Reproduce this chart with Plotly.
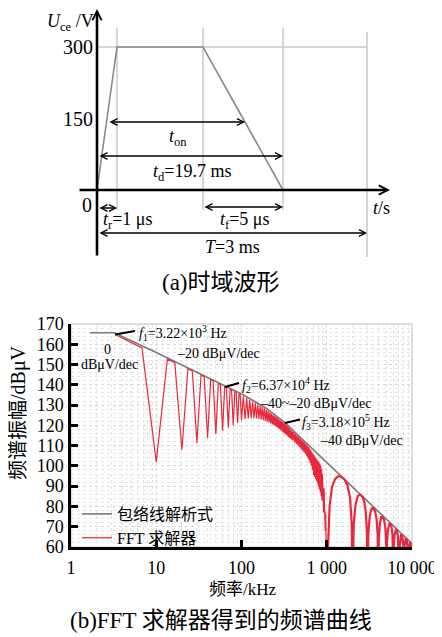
import plotly.graph_objects as go

W, H = 442, 637          # window size
OFF = 8                  # page body margin: the figure starts 8 px in
FW, FH = W - OFF, H - OFF

# ---------------- (a) time-domain waveform (schematic, not to scale) ----------------
wave_t = [0, 1, 5.3, 9.3]          # schematic time positions: start, end of t_r, start of fall, end of fall
wave_v = [0, 300, 300, 0]          # U_ce in V
guide_t = [1, 5.3, 9.3, 13.5]      # vertical guides (t_r end, fall start, fall end, T)
v_ticks = [150, 300]

# ---------------- (b) spectrum ----------------
x_tickvals = [1, 10, 100, 1000, 10000]
x_ticktext = ["1", "10", "100", "1 000", "10 000"]
y_tickvals = [60, 70, 80, 90, 100, 110, 120, 130, 140, 150, 160, 170]

# envelope (analytic) kHz / dBuV
env_f = [1.67, 3.22, 10, 20, 40, 63.7, 100, 150, 200, 318, 1000, 3000, 10000]
env_v = [165.7, 165.7, 155.9, 149.8, 143.8, 139.8, 135.5, 131.3, 128.1, 121.6, 101.7, 82.6, 61.7]

# FFT solver
fft_f_1 = [3.3, 6.8, 10, 13.5, 16.5, 20, 23.5, 26.5, 30, 33.5, 36.5, 40, 43.5, 46.5, 50,
           53.5, 56.5, 60, 63.5, 66.5, 70, 73.5, 76.5, 80, 83.5, 86.5, 90, 93.5, 96.5]
fft_v_1 = [164.8, 158.2, 102.0, 152.6, 150.9, 108.0, 147.8, 146.8, 111.3, 144.7, 144.0, 113.8,
           142.5, 141.9, 115.8, 140.7, 140.2, 117.4, 139.2, 138.8, 118.8, 137.8, 137.5, 120.0,
           136.6, 136.3, 121.2, 135.5, 135.2]

fft_f_2 = [100, 105, 110, 115, 120, 125, 130, 135, 140, 145, 150, 155, 160, 165, 170, 175,
           180, 185, 190, 195, 200, 205, 210, 215, 220, 225, 230, 235, 240, 245, 250, 255,
           260, 265, 270, 275, 280, 285, 290, 295, 300, 305, 310, 315, 320, 325, 330, 335,
           340, 345, 350, 355, 360, 365, 370, 375, 380, 385, 390, 395]
fft_v_2 = [122.5, 134.4, 123.0, 133.5, 123.4, 132.6, 123.5, 131.8, 123.5, 131.1, 123.4, 130.3,
           123.2, 129.6, 122.9, 129.0, 122.6, 128.4, 122.2, 127.8, 121.8, 127.2, 121.4, 126.5,
           121.0, 125.8, 120.5, 125.2, 120.1, 124.7, 119.6, 124.1, 119.1, 123.6, 118.6, 123.0,
           118.1, 122.5, 117.6, 122.0, 117.0, 121.6, 116.5, 121.1, 116.0, 120.6, 115.6, 120.1,
           115.1, 119.5, 114.7, 119.0, 114.2, 118.5, 113.8, 118.0, 113.3, 117.5, 112.9, 117.0]

fft_f_3 = [400, 410, 420, 430, 440, 450, 460, 470, 480, 490, 500, 510, 520, 530, 540, 550,
           560, 570, 580, 590, 600, 610, 620, 630, 640, 650, 660, 670, 680, 690, 700, 710,
           720, 730, 740, 750, 760, 770, 780, 790, 800, 810, 820, 830, 840, 850, 860, 870,
           880, 890, 900, 910, 920, 930, 940, 950, 960, 970, 980, 990]
fft_v_3 = [112.5, 116.7, 111.6, 115.9, 110.8, 115.1, 110.0, 114.3, 109.2, 113.6, 108.4, 112.9,
           107.6, 112.2, 106.8, 111.5, 106.0, 110.8, 105.0, 110.1, 104.0, 109.4, 102.8, 108.6,
           101.5, 107.8, 100.0, 107.0, 98.0, 106.0, 95.5, 105.2, 94.5, 104.5, 93.5, 103.8,
           92.5, 103.1, 91.5, 102.4, 90.0, 101.8, 88.5, 101.2, 87.0, 100.2, 85.0, 98.5,
           83.0, 96.0, 80.0, 93.0, 77.0, 89.0, 73.0, 84.0, 68.0, 77.0, 60.0, 67.0]

fft_f_4 = [1000, 1080, 1150, 1250, 1350, 1450, 1600, 1750, 1880, 1960,
           2000, 2080, 2180, 2320, 2450, 2600, 2750, 2880, 2960,
           3000, 3080, 3200, 3350, 3500, 3680, 3850, 3950,
           4000, 4080, 4200, 4350, 4500, 4700, 4870, 4960,
           5000, 5080, 5200, 5400, 5550, 5750, 5900, 5970,
           6000, 6100, 6250, 6450, 6650, 6850, 6960,
           7000, 7100, 7250, 7450, 7650, 7850, 7960,
           8000, 8100, 8250, 8450, 8650, 8850, 8960,
           9000, 9100, 9250, 9450, 9650, 9850, 9960, 10000]
fft_v_4 = [45, 80, 89.5, 93.5, 94.8, 94.8, 93.5, 90.5, 84, 72,
           45, 72, 81, 85.3, 85.8, 85.0, 82.5, 77, 67,
           45, 67, 75.5, 79.0, 79.3, 77.8, 73.5, 66,
           45, 64, 71.5, 74.8, 75.0, 73.5, 69.5, 62,
           45, 61, 68, 71.3, 71.5, 70, 66, 59,
           45, 60, 66, 68.6, 68.0, 65, 58,
           45, 58, 63.8, 66.3, 65.7, 62.5, 56,
           45, 56, 61.8, 64.3, 63.7, 60.5, 54,
           45, 54, 60, 62.4, 61.8, 58.5, 52, 45]

fft_lo_f = fft_f_1 + fft_f_2 + fft_f_3 + [1000]
fft_lo_v = fft_v_1 + fft_v_2 + fft_v_3 + [45]

# ---------------- layout helpers (page pixel -> paper) ----------------
def px(x):
    return (x - OFF) / FW

def py(y):
    return 1 - (y - OFF) / FH

FONT = '"Liberation Serif", "Times New Roman", Tinos, "DejaVu Serif", "Noto Sans CJK SC", serif'
RED = "#e8283c"
GRAY = "#7a7a7a"

# top schematic axis mapping
X0, PXU = 97.0, 20.0          # page px of t=0, px per schematic unit
Y0, PXV = 190.0, 143.0 / 300  # page px of 0 V, px per volt
def tu(p):
    return (p - X0) / PXU
def vv(p):
    return (Y0 - p) / PXV

fig = go.Figure()

# ---- (a) guides ----
gx, gy = [], []
for i, t in enumerate(guide_t):
    top, bot = (vv(28), vv(210)) if i < 3 else (vv(32), vv(257))
    gx += [t, t, None]
    gy += [top, bot, None]
gx += [0, guide_t[-1]]
gy += [wave_v[1], wave_v[1]]
fig.add_trace(go.Scatter(x=gx, y=gy, xaxis="x2", yaxis="y2", mode="lines",
                         line=dict(color="#c9c9c9", width=1.5), showlegend=False, hoverinfo="skip"))
fig.add_trace(go.Scatter(x=wave_t, y=wave_v, xaxis="x2", yaxis="y2", mode="lines",
                         line=dict(color="#8a8a8a", width=1.6), showlegend=False, hoverinfo="skip"))

# ---- (b) traces ----
fig.add_trace(go.Scatter(x=env_f, y=env_v, mode="lines", name="包络线解析式",
                         line=dict(color=GRAY, width=1.6)))
fig.add_trace(go.Scatter(x=fft_lo_f, y=fft_lo_v, mode="lines", name="FFT 求解器",
                         legendgroup="fft", line=dict(color=RED, width=1.2)))
fig.add_trace(go.Scatter(x=fft_f_4, y=fft_v_4, mode="lines", name="FFT 求解器",
                         legendgroup="fft", showlegend=False, line=dict(color=RED, width=2.2)))

ann = []
# axis arrows (a)
ann.append(dict(xref="x2", yref="y2", axref="x2", ayref="y2", x=tu(390), y=0, ax=tu(78), ay=0,
                text="", showarrow=True, arrowhead=5, arrowsize=0.7, arrowwidth=2.6, arrowcolor="black"))
ann.append(dict(xref="x2", yref="y2", axref="x2", ayref="y2", x=0, y=vv(9), ax=0, ay=vv(257),
                text="", showarrow=True, arrowhead=5, arrowsize=0.7, arrowwidth=2.6, arrowcolor="black"))
# dimension arrows (a)
dims = [(tu(108), tu(245), vv(122)),
        (tu(98), guide_t[2], vv(156)),
        (tu(98), guide_t[0], vv(208)),
        (guide_t[1], guide_t[2], vv(207)),
        (tu(98), guide_t[3], vv(233))]
for a, b, y in dims:
    ann.append(dict(xref="x2", yref="y2", axref="x2", ayref="y2", x=b, y=y, ax=a, ay=y,
                    text="", showarrow=True, arrowside="end+start",
                    arrowhead=5, startarrowhead=5, arrowsize=1, startarrowsize=1,
                    arrowwidth=1.3, arrowcolor="black"))

def txt(x, y, s, size=18, xanchor="center", **kw):
    d = dict(xref="paper", yref="paper", x=px(x), y=py(y), text=s, showarrow=False,
             xanchor=xanchor, yanchor="middle", font=dict(family=FONT, size=size, color="black"))
    d.update(kw)
    ann.append(d)

txt(70, 22, "<i>U</i><sub>ce</sub> /V", 18)
txt(87, 205, "0", 20)
txt(178, 137, "<i>t</i><sub>on</sub>", 18)
txt(192, 172, "<i>t</i><sub>d</sub>=19.7 ms", 18)
txt(128, 221, "<i>t</i><sub>r</sub>=1 μs", 18)
txt(245, 221, "<i>t</i><sub>f</sub>=5 μs", 18)
txt(232, 247, "<i>T</i>=3 ms", 18)
txt(381, 208, "<i>t</i>/s", 18)
txt(221, 283, "(a)时域波形", 23)

# (b) annotations
txt(137, 333, "<i>f</i><sub>1</sub>=3.22×10<sup>3</sup> Hz", 14, xanchor="left")
txt(107, 349, "0", 14)
txt(109, 364, "dBμV/dec", 14)
txt(175, 353, "–20 dBμV/dec", 14, xanchor="left")
txt(240, 385, "<i>f</i><sub>2</sub>=6.37×10<sup>4</sup> Hz", 14, xanchor="left")
txt(258, 403, "–40~–20 dBμV/dec", 14, xanchor="left")
txt(300, 422, "<i>f</i><sub>3</sub>=3.18×10<sup>5</sup> Hz", 14, xanchor="left")
txt(318, 440, "–40 dBμV/dec", 14, xanchor="left")
txt(243, 589, "频率/kHz", 17)
txt(18, 413, "频谱振幅/dBμV", 20, textangle=-90)
txt(221, 620, "(b)FFT 求解器得到的频谱曲线", 23)

shapes = [
    dict(type="rect", xref="paper", yref="paper", x0=px(71), x1=px(412), y0=py(547), y1=py(324),
         line=dict(color="#bdbdbd", width=1), layer="below"),
    dict(type="line", xref="paper", yref="paper", x0=px(115), y0=py(334.5), x1=px(135), y1=py(331),
         line=dict(color="black", width=2)),
    dict(type="line", xref="paper", yref="paper", x0=px(225), y0=py(387), x1=px(239), y1=py(383),
         line=dict(color="black", width=2)),
    dict(type="line", xref="paper", yref="paper", x0=px(285), y0=py(423), x1=px(300), y1=py(419.5),
         line=dict(color="black", width=2)),
]

minor_x = [m * 10 ** k for k in range(4) for m in range(2, 10)]

fig.update_layout(
    width=FW, height=FH, margin=dict(l=0, r=0, t=0, b=0, pad=0, autoexpand=False),
    paper_bgcolor="white", plot_bgcolor="white",
    font=dict(family=FONT, size=18, color="black"),
    annotations=ann, shapes=shapes,
    showlegend=True,
    legend=dict(x=px(77), y=py(497), xanchor="left", yanchor="top", bgcolor="rgba(0,0,0,0)",
                font=dict(family=FONT, size=16, color="black"), tracegroupgap=0, itemwidth=30),
    xaxis=dict(type="log", range=[0, 4], domain=[px(71), px(412)], anchor="y", automargin=False,
               tickmode="array", tickvals=x_tickvals, ticktext=x_ticktext,
               ticks="inside", ticklen=7, tickwidth=2.5, tickcolor="black",
               showline=True, linewidth=2.5, linecolor="black", mirror=False,
               showgrid=True, gridcolor="#d8d8d8", griddash="dot", gridwidth=1,
               zeroline=False, ticklabelstandoff=3,
               tickfont=dict(family=FONT, size=18, color="black"),
               minor=dict(tickmode="array", tickvals=minor_x, showgrid=True,
                          gridcolor="#e2e2e2", griddash="dot", ticks="")),
    yaxis=dict(range=[60, 170], domain=[py(547), py(324)], anchor="x", automargin=False,
               tickmode="array", tickvals=y_tickvals,
               ticks="inside", ticklen=7, tickwidth=2.5, tickcolor="black",
               showline=True, linewidth=2.5, linecolor="black", mirror=False,
               showgrid=True, gridcolor="#d8d8d8", griddash="dot", gridwidth=1,
               zeroline=False, ticklabelstandoff=1,
               tickfont=dict(family=FONT, size=18, color="black"),
               minor=dict(dtick=2, showgrid=True, gridcolor="#e6e6e6", griddash="dot", ticks="")),
    xaxis2=dict(domain=[0, 1], range=[tu(OFF), tu(W)], anchor="y2", visible=False, automargin=False),
    yaxis2=dict(domain=[py(262), 1], range=[vv(262), vv(OFF)], anchor="free", position=px(97),
                automargin=False,
                tickmode="array", tickvals=v_ticks, ticks="", showline=False, showgrid=False,
                zeroline=False, ticklabelstandoff=4,
                tickfont=dict(family=FONT, size=20, color="black")),
)

fig.write_html("out.html")
